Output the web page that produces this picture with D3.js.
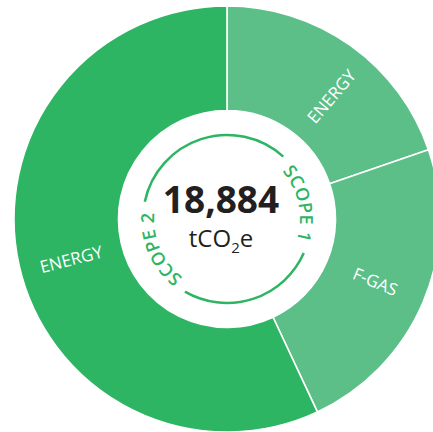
<!DOCTYPE html>
<html>
<head>
<meta charset="utf-8">
<script src="https://cdn.jsdelivr.net/npm/d3@7"></script>
<style>
html,body{margin:0;padding:0;background:#fff;}
svg{display:block;}
</style>
</head>
<body>
<svg id="chart" width="433" height="432"></svg>
<script>
// ---- data ----
const categories = ["ENERGY", "F-GAS", "ENERGY"];
const scopes = ["SCOPE 1", "SCOPE 1", "SCOPE 2"];
const values = [3725, 4400, 10759];
const totalLabel = "18,884";
const unitMain = "tCO";
const unitSub = "2";
const unitEnd = "e";
const scopeNames = ["SCOPE 1", "SCOPE 2"];

// ---- layout ----
const W = 433, H = 432;
const cx = 227, cy = 219;
const outerR = 213, innerR = 108.5;
const ringR = 84, scopeTextR = 73;
const colors = {"SCOPE 1": "#5cbf88", "SCOPE 2": "#2eb563"};
const ringColor = "#2eb563";
const font = "'Open Sans', 'Noto Sans', sans-serif";

const svg = d3.select("#chart");
const g = svg.append("g").attr("transform", `translate(${cx},${cy})`);

const data = categories.map((c, i) => ({cat: c, scope: scopes[i], value: values[i]}));
const pie = d3.pie().value(d => d.value).sort(null);
const arcs = pie(data);
const arcGen = d3.arc().innerRadius(innerR).outerRadius(outerR);

g.selectAll("path.seg").data(arcs).join("path")
  .attr("class", "seg")
  .attr("d", arcGen)
  .attr("fill", d => colors[d.data.scope])
  .attr("stroke", "#fff")
  .attr("stroke-width", 1.6);

// segment labels, radial
const labelR = 161;
const toDeg = r => r * 180 / Math.PI;
const rad = d => d * Math.PI / 180;
const labelShift = [5, 0, -2]; // small angular nudges (deg) for label placement
g.selectAll("text.seglab").data(arcs).join("text")
  .attr("class", "seglab")
  .attr("transform", (d, i) => {
    const deg = toDeg((d.startAngle + d.endAngle) / 2) + labelShift[i];
    const a = rad(deg);
    const x = labelR * Math.sin(a), y = -labelR * Math.cos(a);
    const rot = deg < 180 ? deg - 90 : deg + 90;
    return `translate(${x},${y}) rotate(${rot})`;
  })
  .attr("text-anchor", "middle")
  .attr("dy", "0.35em")
  .attr("fill", "#fff")
  .attr("font-family", font)
  .attr("font-size", 17)
  .text(d => d.data.cat);

// scope ring texts and arcs
const scopeCenters = {"SCOPE 1": 78, "SCOPE 2": 246};
const defs = svg.append("defs");
const gaps = [];
const ringG = svg.append("g").attr("transform", `translate(${cx},${cy})`);
scopeNames.forEach((s, i) => {
  const c = scopeCenters[s];
  const p = d3.path();
  p.arc(0, 0, scopeTextR, rad(c - 90 - 90), rad(c + 90 - 90), false);
  defs.append("path").attr("id", "sp" + i).attr("d", p.toString());
  const t = ringG.append("text")
    .attr("fill", ringColor)
    .attr("font-family", font)
    .attr("font-weight", 600)
    .attr("font-size", 18)
    .attr("letter-spacing", 0.3);
  t.append("textPath")
    .attr("href", "#sp" + i)
    .attr("startOffset", "50%")
    .attr("text-anchor", "middle")
    .text(s);
  const len = t.node().getComputedTextLength();
  const halfDeg = toDeg(len / scopeTextR) / 2;
  gaps.push([c - halfDeg - 7, c + halfDeg + 7]);
});
gaps.sort((a, b) => a[0] - b[0]);
const ringSegs = [
  [gaps[0][1], gaps[1][0]],
  [gaps[1][1], gaps[0][0] + 360]
];
ringSegs.forEach(([a0, a1]) => {
  const p = d3.path();
  p.arc(0, 0, ringR, rad(a0 - 90), rad(a1 - 90), false);
  ringG.append("path").attr("d", p.toString())
    .attr("fill", "none")
    .attr("stroke", ringColor)
    .attr("stroke-width", 2.5);
});

// center text
const tx = cx - 6;
svg.append("text")
  .attr("x", tx).attr("y", 213)
  .attr("text-anchor", "middle")
  .attr("font-family", font)
  .attr("font-weight", 700)
  .attr("font-size", 37)
  .attr("fill", "#231f20")
  .text(totalLabel);
const ut = svg.append("text")
  .attr("x", tx).attr("y", 247)
  .attr("text-anchor", "middle")
  .attr("font-family", font)
  .attr("font-size", 24)
  .attr("fill", "#231f20");
ut.append("tspan").text(unitMain);
ut.append("tspan").attr("font-size", 15).attr("dy", 6).text(unitSub);
ut.append("tspan").attr("dy", -6).text(unitEnd);
</script>
</body>
</html>
